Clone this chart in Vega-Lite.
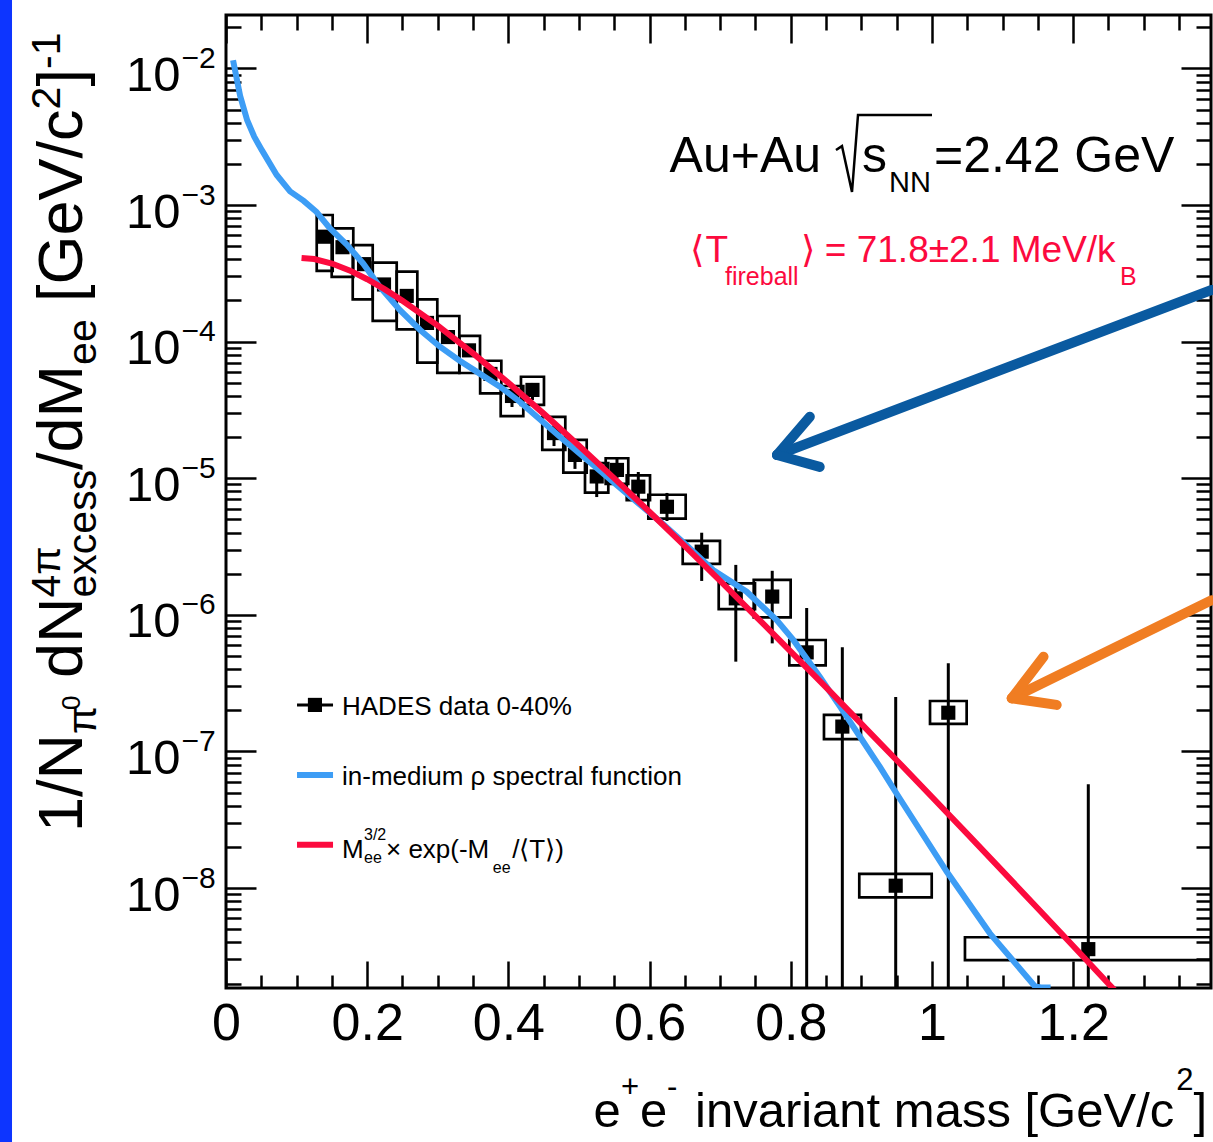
{
  "$schema": "https://vega.github.io/schema/vega-lite/v6.json",
  "width": 985,
  "height": 973,
  "autosize": {"type": "none"},
  "padding": {"left": 226, "top": 15, "right": 2, "bottom": 154},
  "background": "white",
  "config": {
    "view": {"stroke": "black", "strokeWidth": 3},
    "axis": {"grid": false, "domain": false, "tickColor": "black", "labelColor": "black", "labelFlush": false, "labelOverlap": false, "labelBound": false, "title": null}
  },
  "datasets": {
    "one": [{"k": 1}],
    "pts": [
      {"x": 0.1402, "y": 5.86e-4, "xlo": 0.1285, "xhi": 0.1511, "slo": 3.30e-4, "shi": 8.45e-4, "elo": 5.5e-4, "ehi": 6.2e-4},
      {"x": 0.1650, "y": 4.91e-4, "xlo": 0.1497, "xhi": 0.1803, "slo": 2.98e-4, "shi": 6.74e-4, "elo": 4.6e-4, "ehi": 5.2e-4},
      {"x": 0.1955, "y": 3.69e-4, "xlo": 0.1795, "xhi": 0.2078, "slo": 2.04e-4, "shi": 5.09e-4, "elo": 3.45e-4, "ehi": 3.95e-4},
      {"x": 0.2238, "y": 2.62e-4, "xlo": 0.2078, "xhi": 0.2418, "slo": 1.42e-4, "shi": 3.78e-4, "elo": 2.45e-4, "ehi": 2.8e-4},
      {"x": 0.2560, "y": 2.16e-4, "xlo": 0.2418, "xhi": 0.2710, "slo": 1.23e-4, "shi": 3.25e-4, "elo": 2.0e-4, "ehi": 2.32e-4},
      {"x": 0.2847, "y": 1.37e-4, "xlo": 0.2710, "xhi": 0.2993, "slo": 7.02e-5, "shi": 2.04e-4, "elo": 1.27e-4, "ehi": 1.48e-4},
      {"x": 0.3144, "y": 1.08e-4, "xlo": 0.2993, "xhi": 0.3305, "slo": 5.91e-5, "shi": 1.54e-4, "elo": 1.0e-4, "ehi": 1.17e-4},
      {"x": 0.3442, "y": 8.63e-5, "xlo": 0.3305, "xhi": 0.3598, "slo": 5.89e-5, "shi": 1.10e-4, "elo": 7.9e-5, "ehi": 9.4e-5},
      {"x": 0.3746, "y": 5.80e-5, "xlo": 0.3600, "xhi": 0.3900, "slo": 4.18e-5, "shi": 7.24e-5, "elo": 5.2e-5, "ehi": 6.4e-5},
      {"x": 0.4051, "y": 4.00e-5, "xlo": 0.3891, "xhi": 0.4211, "slo": 2.85e-5, "shi": 4.73e-5, "elo": 3.32e-5, "ehi": 4.73e-5},
      {"x": 0.4341, "y": 4.43e-5, "xlo": 0.4178, "xhi": 0.4504, "slo": 3.44e-5, "shi": 5.53e-5, "elo": 3.73e-5, "ehi": 4.98e-5},
      {"x": 0.4646, "y": 2.14e-5, "xlo": 0.4480, "xhi": 0.4806, "slo": 1.61e-5, "shi": 2.81e-5, "elo": 1.72e-5, "ehi": 2.45e-5},
      {"x": 0.4943, "y": 1.48e-5, "xlo": 0.4778, "xhi": 0.5109, "slo": 1.10e-5, "shi": 1.91e-5, "elo": 1.17e-5, "ehi": 1.69e-5},
      {"x": 0.5251, "y": 1.03e-5, "xlo": 0.5085, "xhi": 0.5415, "slo": 7.83e-6, "shi": 1.29e-5, "elo": 7.28e-6, "ehi": 1.19e-5},
      {"x": 0.5538, "y": 1.15e-5, "xlo": 0.5378, "xhi": 0.5698, "slo": 9.08e-6, "shi": 1.40e-5, "elo": 1.00e-5, "ehi": 1.41e-5},
      {"x": 0.5840, "y": 8.67e-6, "xlo": 0.5676, "xhi": 0.6006, "slo": 6.92e-6, "shi": 1.05e-5, "elo": 6.58e-6, "ehi": 1.11e-5},
      {"x": 0.6246, "y": 6.18e-6, "xlo": 0.5982, "xhi": 0.6511, "slo": 5.06e-6, "shi": 7.57e-6, "elo": 4.86e-6, "ehi": 7.80e-6},
      {"x": 0.6738, "y": 2.90e-6, "xlo": 0.6469, "xhi": 0.6997, "slo": 2.36e-6, "shi": 3.48e-6, "elo": 1.77e-6, "ehi": 3.99e-6},
      {"x": 0.7221, "y": 1.32e-6, "xlo": 0.6979, "xhi": 0.7493, "slo": 1.10e-6, "shi": 1.70e-6, "elo": 4.54e-7, "ehi": 2.32e-6},
      {"x": 0.7737, "y": 1.36e-6, "xlo": 0.7475, "xhi": 0.7998, "slo": 9.59e-7, "shi": 1.80e-6, "elo": 6.18e-7, "ehi": 2.10e-6},
      {"x": 0.8225, "y": 5.31e-7, "xlo": 0.7979, "xhi": 0.8494, "slo": 4.27e-7, "shi": 6.54e-7, "elo": 1e-10, "ehi": 1.12e-6},
      {"x": 0.8730, "y": 1.52e-7, "xlo": 0.8470, "xhi": 0.8994, "slo": 1.23e-7, "shi": 1.85e-7, "elo": 1e-10, "ehi": 5.78e-7},
      {"x": 0.9486, "y": 1.04e-8, "xlo": 0.8970, "xhi": 0.9996, "slo": 8.55e-9, "shi": 1.27e-8, "elo": 1e-10, "ehi": 2.50e-7},
      {"x": 1.0231, "y": 1.92e-7, "xlo": 0.9972, "xhi": 1.0491, "slo": 1.59e-7, "shi": 2.34e-7, "elo": 1e-10, "ehi": 4.42e-7},
      {"x": 1.2214, "y": 3.57e-9, "xlo": 1.0467, "xhi": 1.3952, "slo": 2.97e-9, "shi": 4.36e-9, "elo": 1e-10, "ehi": 5.74e-8}
    ],
    "blue": [
      {"x": 0.010, "y": 1.148e-2}, {"x": 0.020, "y": 6.31e-3}, {"x": 0.030, "y": 4.17e-3}, {"x": 0.040, "y": 3.16e-3},
      {"x": 0.051, "y": 2.51e-3}, {"x": 0.0718, "y": 1.66e-3}, {"x": 0.0907, "y": 1.259e-3}, {"x": 0.110, "y": 1.072e-3},
      {"x": 0.128, "y": 8.91e-4}, {"x": 0.147, "y": 6.76e-4}, {"x": 0.171, "y": 5.13e-4}, {"x": 0.1945, "y": 3.72e-4},
      {"x": 0.218, "y": 2.51e-4}, {"x": 0.2465, "y": 1.70e-4}, {"x": 0.275, "y": 1.216e-4}, {"x": 0.303, "y": 9.18e-5},
      {"x": 0.331, "y": 7.24e-5}, {"x": 0.355, "y": 6.03e-5}, {"x": 0.388, "y": 4.68e-5}, {"x": 0.416, "y": 3.63e-5},
      {"x": 0.473, "y": 2.01e-5}, {"x": 0.520, "y": 1.25e-5}, {"x": 0.5675, "y": 7.74e-6}, {"x": 0.615, "y": 4.81e-6},
      {"x": 0.648, "y": 3.39e-6}, {"x": 0.690, "y": 2.13e-6}, {"x": 0.7375, "y": 1.476e-6}, {"x": 0.780, "y": 9.16e-7},
      {"x": 0.8035, "y": 6.55e-7}, {"x": 0.841, "y": 3.52e-7}, {"x": 0.870, "y": 2.12e-7}, {"x": 0.898, "y": 1.28e-7},
      {"x": 0.926, "y": 7.73e-8}, {"x": 0.950, "y": 4.90e-8}, {"x": 1.021, "y": 1.315e-8}, {"x": 1.082, "y": 4.66e-9},
      {"x": 1.146, "y": 1.90e-9}, {"x": 1.1545, "y": 1.87e-9}, {"x": 1.168, "y": 1.87e-9}
    ],
    "red": [
      {"x": 0.107, "y": 4.09e-4}, {"x": 0.125, "y": 4.02e-4}, {"x": 0.15, "y": 3.73e-4}, {"x": 0.175, "y": 3.32e-4},
      {"x": 0.2, "y": 2.86e-4}, {"x": 0.225, "y": 2.41e-4}, {"x": 0.25, "y": 1.99e-4}, {"x": 0.3, "y": 1.31e-4},
      {"x": 0.35, "y": 8.20e-5}, {"x": 0.4, "y": 4.99e-5}, {"x": 0.45, "y": 2.97e-5}, {"x": 0.5, "y": 1.73e-5},
      {"x": 0.55, "y": 9.97e-6}, {"x": 0.6, "y": 5.66e-6}, {"x": 0.65, "y": 3.18e-6}, {"x": 0.7, "y": 1.77e-6},
      {"x": 0.75, "y": 9.80e-7}, {"x": 0.8, "y": 5.38e-7}, {"x": 0.85, "y": 2.94e-7}, {"x": 0.9, "y": 1.59e-7},
      {"x": 0.95, "y": 8.62e-8}, {"x": 1.0, "y": 4.64e-8}, {"x": 1.05, "y": 2.49e-8}, {"x": 1.1, "y": 1.33e-8},
      {"x": 1.15, "y": 7.08e-9}, {"x": 1.2, "y": 3.76e-9}, {"x": 1.25, "y": 1.99e-9}, {"x": 1.27, "y": 1.55e-9}
    ],
    "arrows": [
      {"a": "rho", "x": 1.396, "y": 2.39e-4, "x2": 0.7805, "y2": 1.48e-5},
      {"a": "rho", "x": 0.7805, "y": 1.48e-5, "x2": 0.827, "y2": 2.82e-5},
      {"a": "rho", "x": 0.7805, "y": 1.48e-5, "x2": 0.841, "y2": 1.21e-5},
      {"a": "exc", "x": 1.396, "y": 1.28e-6, "x2": 1.113, "y2": 2.45e-7},
      {"a": "exc", "x": 1.113, "y": 2.45e-7, "x2": 1.158, "y2": 4.93e-7},
      {"a": "exc", "x": 1.113, "y": 2.45e-7, "x2": 1.1766, "y2": 2.19e-7}
    ],
    "rad": [
      {"i": 1, "x": 0.864, "y": 2.53e-3}, {"i": 2, "x": 0.8725, "y": 2.70e-3}, {"i": 3, "x": 0.8867, "y": 1.245e-3},
      {"i": 4, "x": 0.8952, "y": 4.56e-3}, {"i": 5, "x": 1.0, "y": 4.56e-3}
    ],
    "txt": [
      {"g": "t50", "t": "Au+Au", "x": 0.6283, "y": 1.754e-3},
      {"g": "t50", "t": "s", "x": 0.9008, "y": 1.754e-3},
      {"g": "t50", "t": "=2.42 GeV", "x": 1.0028, "y": 1.754e-3},
      {"g": "t29", "t": "NN", "x": 0.9391, "y": 1.25e-3},
      {"g": "r37", "t": "⟨", "x": 0.6572, "y": 3.85e-4},
      {"g": "r37", "t": "T", "x": 0.6792, "y": 3.85e-4},
      {"g": "r37", "t": "⟩", "x": 0.8144, "y": 3.85e-4},
      {"g": "r37", "t": "= 71.8±2.1 MeV/k", "x": 0.8482, "y": 3.85e-4},
      {"g": "r25", "t": "fireball", "x": 0.7068, "y": 2.60e-4},
      {"g": "r25", "t": "B", "x": 1.2663, "y": 2.60e-4},
      {"g": "l26", "t": "HADES data 0-40%", "x": 0.1643, "y": 1.85e-7},
      {"g": "l26", "t": "in-medium ρ spectral function", "x": 0.1643, "y": 5.68e-8},
      {"g": "l26", "t": "M", "x": 0.1643, "y": 1.66e-8},
      {"g": "l26", "t": "× exp(-M", "x": 0.2266, "y": 1.66e-8},
      {"g": "l26", "t": "/⟨T⟩)", "x": 0.4053, "y": 1.66e-8},
      {"g": "l16", "t": "3/2", "x": 0.1955, "y": 2.24e-8},
      {"g": "l16", "t": "ee", "x": 0.1955, "y": 1.52e-8},
      {"g": "l16", "t": "ee", "x": 0.378, "y": 1.29e-8},
      {"g": "x49", "t": "e", "x": 0.5207, "y": 1.789e-10},
      {"g": "x49", "t": "e", "x": 0.5864, "y": 1.789e-10},
      {"g": "x49", "t": "invariant mass [GeV/c", "x": 0.6643, "y": 1.789e-10},
      {"g": "x49", "t": "]", "x": 1.3704, "y": 1.789e-10},
      {"g": "x31", "t": "+", "x": 0.5595, "y": 2.95e-10},
      {"g": "x31", "t": "-", "x": 0.6246, "y": 2.95e-10},
      {"g": "x31", "t": "2", "x": 1.3459, "y": 3.32e-10},
      {"g": "y63", "t": "1/N", "x": -0.2040, "y": 2.57e-8},
      {"g": "y41", "t": "π", "x": -0.1841, "y": 1.34e-7},
      {"g": "y26", "t": "0", "x": -0.2068, "y": 2.01e-7},
      {"g": "y63", "t": "dN", "x": -0.2040, "y": 3.44e-7},
      {"g": "y41", "t": "4π", "x": -0.2351, "y": 1.34e-6},
      {"g": "y41", "t": "excess", "x": -0.1841, "y": 1.34e-6},
      {"g": "y63", "t": "/dM", "x": -0.2040, "y": 1.15e-5},
      {"g": "y41", "t": "ee", "x": -0.1841, "y": 6.75e-5},
      {"g": "y63", "t": "[GeV/c", "x": -0.2040, "y": 1.95e-4},
      {"g": "y41", "t": "2", "x": -0.2351, "y": 5.01e-3},
      {"g": "y63", "t": "]", "x": -0.2040, "y": 7.36e-3},
      {"g": "y41", "t": "-1", "x": -0.2351, "y": 9.91e-3}
    ]
  },
  "resolve": {"axis": {"x": "independent", "y": "independent"}},
  "layer": [
    {
      "data": {"name": "one"},
      "mark": {"type": "rect", "color": "#0d35ff", "clip": false},
      "encoding": {
        "x": {"datum": -0.3205, "type": "quantitative", "axis": null, "scale": {"type": "linear", "domain": [0, 1.3952], "nice": false, "zero": false}},
        "x2": {"datum": -0.3031},
        "y": {"datum": 0.05, "type": "quantitative", "axis": null, "scale": {"type": "log", "domain": [1.854e-9, 0.0246], "nice": false}},
        "y2": {"datum": 1e-10}
      }
    },
    {
      "data": {"name": "pts"},
      "mark": {"type": "rect", "fill": "white", "fillOpacity": 0, "stroke": "black", "strokeWidth": 2.7, "clip": true},
      "encoding": {
        "x": {"field": "xlo", "type": "quantitative", "axis": {"orient": "bottom", "values": [0, 0.2, 0.4, 0.6, 0.8, 1, 1.2], "labelExpr": "format(datum.value, '~g')", "ticks": false, "labelFont": "Liberation Sans", "labelFontSize": 52, "labelPadding": 10}},
        "x2": {"field": "xhi"},
        "y": {"field": "slo", "type": "quantitative", "axis": {"orient": "left", "values": [1e-8, 1e-7, 1e-6, 1e-5, 1e-4, 1e-3, 1e-2], "labelExpr": "'10'", "ticks": false, "labelFont": "Liberation Sans", "labelFontSize": 49, "labelPadding": 46, "labelBaseline": "middle", "labelOffset": 7}},
        "y2": {"field": "shi"}
      }
    },
    {
      "data": {"name": "pts"},
      "mark": {"type": "rule", "color": "black", "strokeWidth": 3, "clip": true},
      "encoding": {
        "x": {"field": "x", "type": "quantitative", "axis": {"orient": "bottom", "values": [0, 0.2, 0.4, 0.6, 0.8, 1, 1.2], "labels": false, "ticks": true, "tickSize": -27, "tickWidth": 2.5}},
        "y": {"field": "elo", "type": "quantitative", "axis": {"orient": "left", "values": [1e-8, 1e-7, 1e-6, 1e-5, 1e-4, 1e-3, 1e-2], "labelExpr": "'−' + round(-log(datum.value) / LN10)", "ticks": false, "labelFont": "Liberation Sans", "labelFontSize": 30, "labelPadding": 45, "labelAlign": "left", "labelBaseline": "middle", "labelOffset": -10}},
        "y2": {"field": "ehi"}
      }
    },
    {
      "data": {"name": "pts"},
      "mark": {"type": "point", "shape": "square", "filled": true, "color": "black", "opacity": 1, "size": 200},
      "encoding": {
        "x": {"field": "x", "type": "quantitative", "axis": {"orient": "bottom", "values": [0.05, 0.1, 0.15, 0.25, 0.3, 0.35, 0.45, 0.5, 0.55, 0.65, 0.7, 0.75, 0.85, 0.9, 0.95, 1.05, 1.1, 1.15, 1.25, 1.3, 1.35], "labels": false, "ticks": true, "tickSize": -13, "tickWidth": 2.5}},
        "y": {"field": "y", "type": "quantitative", "axis": {"orient": "left", "values": [1e-8, 1e-7, 1e-6, 1e-5, 1e-4, 1e-3, 1e-2], "labels": false, "ticks": true, "tickSize": -30, "tickWidth": 2.5}}
      }
    },
    {
      "data": {"name": "blue"},
      "mark": {"type": "line", "color": "#3d9df5", "strokeWidth": 6, "clip": true},
      "encoding": {
        "x": {"field": "x", "type": "quantitative", "axis": {"orient": "top", "values": [0, 0.2, 0.4, 0.6, 0.8, 1, 1.2], "labels": false, "ticks": true, "tickSize": -28, "tickWidth": 2.5}},
        "y": {"field": "y", "type": "quantitative", "axis": {"orient": "left", "values": [2e-9, 3e-9, 4e-9, 5e-9, 6e-9, 7e-9, 8e-9, 9e-9, 2e-8, 3e-8, 4e-8, 5e-8, 6e-8, 7e-8, 8e-8, 9e-8, 2e-7, 3e-7, 4e-7, 5e-7, 6e-7, 7e-7, 8e-7, 9e-7, 2e-6, 3e-6, 4e-6, 5e-6, 6e-6, 7e-6, 8e-6, 9e-6, 2e-5, 3e-5, 4e-5, 5e-5, 6e-5, 7e-5, 8e-5, 9e-5, 2e-4, 3e-4, 4e-4, 5e-4, 6e-4, 7e-4, 8e-4, 9e-4, 2e-3, 3e-3, 4e-3, 5e-3, 6e-3, 7e-3, 8e-3, 9e-3, 2e-2], "labels": false, "ticks": true, "tickSize": -15, "tickWidth": 2.5}}
      }
    },
    {
      "data": {"name": "red"},
      "mark": {"type": "line", "color": "#fc0a3e", "strokeWidth": 6, "clip": true},
      "encoding": {
        "x": {"field": "x", "type": "quantitative", "axis": {"orient": "top", "values": [0.05, 0.1, 0.15, 0.25, 0.3, 0.35, 0.45, 0.5, 0.55, 0.65, 0.7, 0.75, 0.85, 0.9, 0.95, 1.05, 1.1, 1.15, 1.25, 1.3, 1.35], "labels": false, "ticks": true, "tickSize": -15, "tickWidth": 2.5}},
        "y": {"field": "y", "type": "quantitative", "axis": {"orient": "right", "values": [1e-8, 1e-7, 1e-6, 1e-5, 1e-4, 1e-3, 1e-2], "labels": false, "ticks": true, "tickSize": -30, "tickWidth": 2.5}}
      }
    },
    {
      "data": {"name": "arrows"},
      "mark": {"type": "rule", "strokeWidth": 10, "strokeCap": "round", "clip": false},
      "encoding": {
        "x": {"field": "x", "type": "quantitative", "axis": null},
        "x2": {"field": "x2"},
        "y": {"field": "y", "type": "quantitative", "axis": {"orient": "right", "values": [2e-9, 3e-9, 4e-9, 5e-9, 6e-9, 7e-9, 8e-9, 9e-9, 2e-8, 3e-8, 4e-8, 5e-8, 6e-8, 7e-8, 8e-8, 9e-8, 2e-7, 3e-7, 4e-7, 5e-7, 6e-7, 7e-7, 8e-7, 9e-7, 2e-6, 3e-6, 4e-6, 5e-6, 6e-6, 7e-6, 8e-6, 9e-6, 2e-5, 3e-5, 4e-5, 5e-5, 6e-5, 7e-5, 8e-5, 9e-5, 2e-4, 3e-4, 4e-4, 5e-4, 6e-4, 7e-4, 8e-4, 9e-4, 2e-3, 3e-3, 4e-3, 5e-3, 6e-3, 7e-3, 8e-3, 9e-3, 2e-2], "labels": false, "ticks": true, "tickSize": -15, "tickWidth": 2.5}},
        "y2": {"field": "y2"},
        "color": {"field": "a", "type": "nominal", "scale": {"domain": ["rho", "exc"], "range": ["#0a5aa0", "#f07d22"]}, "legend": null}
      }
    },
    {
      "data": {"name": "rad"},
      "mark": {"type": "line", "color": "black", "strokeWidth": 2.5, "clip": false},
      "encoding": {
        "x": {"field": "x", "type": "quantitative", "axis": null},
        "y": {"field": "y", "type": "quantitative", "axis": null},
        "order": {"field": "i"}
      }
    },
    {
      "data": {"name": "one"},
      "mark": {"type": "rule", "color": "black", "strokeWidth": 3},
      "encoding": {"x": {"datum": 0.1006, "type": "quantitative", "axis": null}, "x2": {"datum": 0.1516}, "y": {"datum": 2.19e-7, "type": "quantitative", "axis": null}}
    },
    {
      "data": {"name": "one"},
      "mark": {"type": "point", "shape": "square", "filled": true, "color": "black", "opacity": 1, "size": 200},
      "encoding": {"x": {"datum": 0.126, "type": "quantitative", "axis": null}, "y": {"datum": 2.19e-7, "type": "quantitative", "axis": null}}
    },
    {
      "data": {"name": "one"},
      "mark": {"type": "rule", "color": "#3d9df5", "strokeWidth": 6},
      "encoding": {"x": {"datum": 0.1006, "type": "quantitative", "axis": null}, "x2": {"datum": 0.1516}, "y": {"datum": 6.71e-8, "type": "quantitative", "axis": null}}
    },
    {
      "data": {"name": "one"},
      "mark": {"type": "rule", "color": "#fc0a3e", "strokeWidth": 6},
      "encoding": {"x": {"datum": 0.1006, "type": "quantitative", "axis": null}, "x2": {"datum": 0.1516}, "y": {"datum": 2.07e-8, "type": "quantitative", "axis": null}}
    },
    {
      "data": {"name": "txt"},
      "transform": [{"filter": "datum.g == 't50'"}],
      "mark": {"type": "text", "font": "Liberation Sans", "fontSize": 50, "align": "left", "baseline": "alphabetic", "color": "black"},
      "encoding": {"x": {"field": "x", "type": "quantitative", "axis": null}, "y": {"field": "y", "type": "quantitative", "axis": null}, "text": {"field": "t"}}
    },
    {
      "data": {"name": "txt"},
      "transform": [{"filter": "datum.g == 't29'"}],
      "mark": {"type": "text", "font": "Liberation Sans", "fontSize": 29, "align": "left", "baseline": "alphabetic", "color": "black"},
      "encoding": {"x": {"field": "x", "type": "quantitative", "axis": null}, "y": {"field": "y", "type": "quantitative", "axis": null}, "text": {"field": "t"}}
    },
    {
      "data": {"name": "txt"},
      "transform": [{"filter": "datum.g == 'x49'"}],
      "mark": {"type": "text", "font": "Liberation Sans", "fontSize": 49, "align": "left", "baseline": "alphabetic", "color": "black"},
      "encoding": {"x": {"field": "x", "type": "quantitative", "axis": null}, "y": {"field": "y", "type": "quantitative", "axis": null}, "text": {"field": "t"}}
    },
    {
      "data": {"name": "txt"},
      "transform": [{"filter": "datum.g == 'x31'"}],
      "mark": {"type": "text", "font": "Liberation Sans", "fontSize": 31, "align": "left", "baseline": "alphabetic", "color": "black"},
      "encoding": {"x": {"field": "x", "type": "quantitative", "axis": null}, "y": {"field": "y", "type": "quantitative", "axis": null}, "text": {"field": "t"}}
    },
    {
      "data": {"name": "txt"},
      "transform": [{"filter": "datum.g == 'r37'"}],
      "mark": {"type": "text", "font": "Liberation Sans", "fontSize": 37, "align": "left", "baseline": "alphabetic", "color": "#fc0a3e"},
      "encoding": {"x": {"field": "x", "type": "quantitative", "axis": null}, "y": {"field": "y", "type": "quantitative", "axis": null}, "text": {"field": "t"}}
    },
    {
      "data": {"name": "txt"},
      "transform": [{"filter": "datum.g == 'r25'"}],
      "mark": {"type": "text", "font": "Liberation Sans", "fontSize": 25, "align": "left", "baseline": "alphabetic", "color": "#fc0a3e"},
      "encoding": {"x": {"field": "x", "type": "quantitative", "axis": null}, "y": {"field": "y", "type": "quantitative", "axis": null}, "text": {"field": "t"}}
    },
    {
      "data": {"name": "txt"},
      "transform": [{"filter": "datum.g == 'l26'"}],
      "mark": {"type": "text", "font": "Liberation Sans", "fontSize": 26, "align": "left", "baseline": "alphabetic", "color": "black"},
      "encoding": {"x": {"field": "x", "type": "quantitative", "axis": null}, "y": {"field": "y", "type": "quantitative", "axis": null}, "text": {"field": "t"}}
    },
    {
      "data": {"name": "txt"},
      "transform": [{"filter": "datum.g == 'l16'"}],
      "mark": {"type": "text", "font": "Liberation Sans", "fontSize": 16, "align": "left", "baseline": "alphabetic", "color": "black"},
      "encoding": {"x": {"field": "x", "type": "quantitative", "axis": null}, "y": {"field": "y", "type": "quantitative", "axis": null}, "text": {"field": "t"}}
    },
    {
      "data": {"name": "txt"},
      "transform": [{"filter": "datum.g == 'y63'"}],
      "mark": {"type": "text", "font": "Liberation Sans", "fontSize": 63, "angle": 270, "align": "left", "baseline": "alphabetic", "color": "black"},
      "encoding": {"x": {"field": "x", "type": "quantitative", "axis": null}, "y": {"field": "y", "type": "quantitative", "axis": null}, "text": {"field": "t"}}
    },
    {
      "data": {"name": "txt"},
      "transform": [{"filter": "datum.g == 'y41'"}],
      "mark": {"type": "text", "font": "Liberation Sans", "fontSize": 41, "angle": 270, "align": "left", "baseline": "alphabetic", "color": "black"},
      "encoding": {"x": {"field": "x", "type": "quantitative", "axis": null}, "y": {"field": "y", "type": "quantitative", "axis": null}, "text": {"field": "t"}}
    },
    {
      "data": {"name": "txt"},
      "transform": [{"filter": "datum.g == 'y26'"}],
      "mark": {"type": "text", "font": "Liberation Sans", "fontSize": 26, "angle": 270, "align": "left", "baseline": "alphabetic", "color": "black"},
      "encoding": {"x": {"field": "x", "type": "quantitative", "axis": null}, "y": {"field": "y", "type": "quantitative", "axis": null}, "text": {"field": "t"}}
    }
  ]
}
